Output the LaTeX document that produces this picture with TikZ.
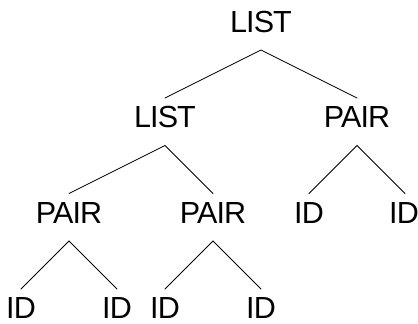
\documentclass[tikz,border=0pt]{standalone}
\usepackage{fontspec}
\setmainfont{Liberation Sans}
\newfontfamily\symfont{Liberation Sans}[LetterSpace=-3]
\begin{document}
\begin{tikzpicture}[x=1pt,y=-1pt,
  sym/.style={font=\symfont\fontsize{30.5}{30}\selectfont, anchor=base,
    inner xsep=0pt, inner ysep=0pt, outer sep=0pt,
    text height=29.5pt, text depth=18pt},
  branch/.style={line width=0.75pt, line cap=round}]
  \useasboundingbox (0,0) rectangle (418,324);
  % level 0
  \node[sym] (l0) at (261,32) {LIST};
  % level 1
  \node[sym] (l1) at (165,127.5) {LIST};
  \node[sym] (p1) at (357,127.5) {PAIR};
  % level 2
  \node[sym] (p2a) at (69,223) {PAIR};
  \node[sym] (p2b) at (213,223) {PAIR};
  \node[sym] (i2a) at (309,223) {ID};
  \node[sym] (i2b) at (404,223) {ID};
  % level 3
  \node[sym] (i3a) at (21,318.5) {ID};
  \node[sym] (i3b) at (117,318.5) {ID};
  \node[sym] (i3c) at (165,318.5) {ID};
  \node[sym] (i3d) at (261,318.5) {ID};
  % branches
  \draw[branch] (l1.north) -- (l0.south) -- (p1.north);
  \draw[branch] (p2a.north) -- (l1.south) -- (p2b.north);
  \draw[branch] (i2a.north) -- (p1.south) -- ([xshift=1pt]i2b.north);
  \draw[branch] (i3a.north) -- (p2a.south) -- (i3b.north);
  \draw[branch] (i3c.north) -- (p2b.south) -- (i3d.north);
\end{tikzpicture}
\end{document}
